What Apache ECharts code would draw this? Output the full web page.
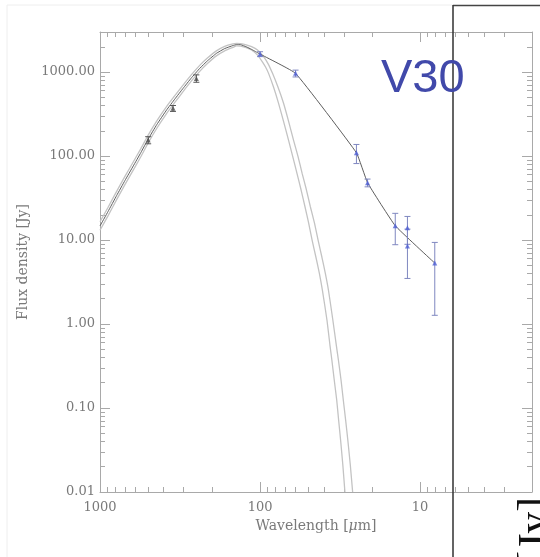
<!DOCTYPE html>
<html>
<head>
<meta charset="utf-8">
<script src="https://cdn.jsdelivr.net/npm/echarts@6/dist/echarts.min.js"></script>
<style>
  html, body { margin: 0; padding: 0; background: #fff; }
  #chart { width: 540px; height: 557px; }
</style>
</head>
<body>
<div id="chart"></div>
<script>
// Sub-millimetre photometry (black)
const submmWavelength = [500, 350, 250];
const submmFlux = [155, 370, 841];
const submmError = [15, 30, 85];

// Far/mid-infrared photometry (blue)
const irWavelength = [100, 60, 25, 21.3, 14.3, 12, 12, 8.1];
const irFlux = [1637, 965, 109.4, 48.1, 14.8, 14.0, 8.49, 5.32];
const irError = [110, 90, 28, 5.1, 6.0, 5.1, 5.0, 4.05];

// Best-fit cold dust model (dark line, long-wavelength part)
const modelWavelength = [1000, 891.5, 787, 698.6, 620, 555.3, 500, 441.6, 384, 340.9, 302.7, 269.1,
  238.2, 212.4, 187.5, 166.4, 147.8, 140.1, 132.3, 122.0, 113.0, 106.7, 100];
const modelFlux = [14.7, 21.8, 33.9, 51.1, 76.0, 110.1, 159.4, 237.1, 352.9, 477.0, 639.7, 848.5,
  1106.6, 1370.4, 1670, 1905, 2068, 2125, 2119, 2001, 1863, 1754, 1638];

// SED line through the infrared points
const sedLineWavelength = [60, 25, 21.3, 14.3, 8.1];
const sedLineFlux = [965, 109.4, 48.1, 14.8, 5.32];

// Upper greybody envelope
const upperWavelength = [1000, 891.5, 787, 698.6, 620, 555.3, 500, 441.6, 384, 340.9, 302.7, 269.1,
  238.2, 212.4, 187.5, 166.4, 147.8, 140.1, 132.3, 122.0, 113.0, 103.7, 95.1, 89.2,
  83.6, 77.3, 71.4, 66.4, 61.8, 58.0, 54.6, 51.3, 48.5, 45.7, 43.4, 41.1, 39.1, 37.4, 35.1, 33.4,
  32.4, 31.2, 30.2, 29.2, 28.3, 27.3, 26.4];
const upperFlux = [16.5, 24.4, 38.0, 57.2, 84.9, 122.8, 177.4, 262.5, 388.2, 523.3, 699.2, 924.9,
  1201.8, 1477.3, 1788.6, 2026.9, 2171.4, 2199, 2184, 2113, 2012, 1828, 1529, 1262,
  965, 662.9, 427.6, 261.0, 155.0, 100, 62.2, 39.4, 24.9, 15.9, 10, 6.28, 4.01, 2.54, 1.116, 0.562,
  0.3727, 0.2154, 0.1245, 0.0720, 0.0416, 0.02097, 0.01];

// Lower greybody envelope
const lowerWavelength = [1000, 891.5, 787, 698.6, 620, 555.3, 500, 441.6, 384, 340.9, 302.7, 269.1,
  238.2, 212.4, 187.5, 166.4, 147.8, 140.1, 132.3, 122.0, 113.0, 103.7, 96.5, 92.4,
  88.5, 82.4, 76.7, 71.4, 66.4, 62.6, 58.8, 55.4, 52.4, 49.7, 47.3, 44.8, 42.6, 40.8, 38.2, 36.6,
  35.6, 34.4, 33.2, 32.3, 31.4, 30.4, 29.5];
const lowerFlux = [13.1, 19.4, 30.3, 45.7, 68.0, 98.7, 143.2, 214.2, 320.8, 434.8, 585.3, 778.4,
  1019.0, 1271.2, 1559.3, 1790.4, 1969.5, 2053, 2039, 1957, 1828, 1594, 1315, 1147,
  965, 662.9, 427.6, 261.0, 155.0, 100, 62.2, 39.4, 24.9, 15.9, 10, 6.28, 4.01, 2.54, 1.116, 0.562,
  0.3727, 0.2154, 0.1245, 0.0720, 0.0416, 0.02097, 0.01];

// Axis ticks
const xMajorTicks = [1000, 100, 10];
const xMinorTicks = [900, 800, 700, 600, 500, 400, 300, 200, 90, 80, 70, 60, 50, 40, 30, 20, 9, 8, 7, 6, 5, 4, 3, 2];
const yMajorTicks = [1000, 100, 10, 1, 0.1, 0.01];
const yMinorTicks = [3000, 2000,
  900, 800, 700, 600, 500, 400, 300, 200,
  90, 80, 70, 60, 50, 40, 30, 20,
  9, 8, 7, 6, 5, 4, 3, 2,
  0.9, 0.8, 0.7, 0.6, 0.5, 0.4, 0.3, 0.2,
  0.09, 0.08, 0.07, 0.06, 0.05, 0.04, 0.03, 0.02];

const zip = (a, b, c) => a.map((v, i) => c ? [v, b[i], c[i]] : [v, b[i]]);

const AXIS = '#a9a9a9';
const TEXT = '#7a7a7a';
const SERIF = '"DejaVu Serif", "Liberation Serif", serif';

function xAxisDef(position, ticks, len, extra) {
  return Object.assign({
    type: 'log', logBase: 10, min: 2, max: 1000, inverse: true, gridIndex: 0,
    position: position, offset: 0,
    splitLine: { show: false },
    axisLine: { show: false },
    axisLabel: { show: false },
    axisTick: { show: true, inside: true, length: len, customValues: ticks, lineStyle: { color: AXIS, width: 1 } }
  }, extra || {});
}
function yAxisDef(position, ticks, len, extra) {
  return Object.assign({
    type: 'log', logBase: 10, min: 0.01, max: 3000, gridIndex: 0,
    position: position, offset: 0,
    splitLine: { show: false },
    axisLine: { show: false },
    axisLabel: { show: false },
    axisTick: { show: true, inside: true, length: len, customValues: ticks, lineStyle: { color: AXIS, width: 1 } }
  }, extra || {});
}

function errorBars(color) {
  return function (params, api) {
    const x = api.value(0), y = api.value(1), e = api.value(2);
    const top = api.coord([x, y + e]);
    const bot = api.coord([x, Math.max(y - e, 1e-4)]);
    const w = 3;
    const style = { stroke: color, lineWidth: 1 };
    return {
      type: 'group',
      children: [
        { type: 'line', shape: { x1: top[0], y1: top[1], x2: bot[0], y2: bot[1] }, style: style },
        { type: 'line', shape: { x1: top[0] - w, y1: top[1], x2: top[0] + w, y2: top[1] }, style: style },
        { type: 'line', shape: { x1: bot[0] - w, y1: bot[1], x2: bot[0] + w, y2: bot[1] }, style: style }
      ]
    };
  };
}

const chart = echarts.init(document.getElementById('chart'), null, { renderer: 'canvas' });

chart.setOption({
  animation: false,
  backgroundColor: '#fff',
  grid: { left: 100, right: 8, top: 32, bottom: 65 },
  xAxis: [
    xAxisDef('bottom', xMajorTicks, 10, {
      axisLine: { show: true, lineStyle: { color: AXIS, width: 1 } },
      axisLabel: {
        show: true, customValues: xMajorTicks, margin: 9,
        formatter: v => String(Math.round(v)),
        color: TEXT, fontFamily: SERIF, fontSize: 13
      },
      name: 'Wavelength [{i|μ}m]',
      nameLocation: 'middle', nameGap: 25,
      nameTextStyle: {
        color: TEXT, fontFamily: SERIF, fontSize: 14,
        rich: { i: { fontStyle: 'italic', fontFamily: SERIF, fontSize: 14, color: TEXT } }
      }
    }),
    xAxisDef('bottom', xMinorTicks, 5),
    xAxisDef('top', xMajorTicks, 10, { axisLine: { show: true, lineStyle: { color: AXIS, width: 1 } } }),
    xAxisDef('top', xMinorTicks, 5)
  ],
  yAxis: [
    yAxisDef('left', yMajorTicks, 10, {
      axisLine: { show: true, lineStyle: { color: AXIS, width: 1 } },
      axisLabel: {
        show: true, customValues: yMajorTicks, margin: 5,
        formatter: v => Number(v).toFixed(2),
        color: TEXT, fontFamily: SERIF, fontSize: 13
      },
      name: 'Flux density [Jy]',
      nameLocation: 'middle', nameGap: 68, nameRotate: 90,
      nameTextStyle: { color: TEXT, fontFamily: SERIF, fontSize: 14 }
    }),
    yAxisDef('left', yMinorTicks, 5),
    yAxisDef('right', yMajorTicks, 10, { axisLine: { show: true, lineStyle: { color: AXIS, width: 1 } } }),
    yAxisDef('right', yMinorTicks, 5)
  ],
  series: [
    {
      name: 'upper envelope', type: 'line', xAxisIndex: 0, yAxisIndex: 0,
      data: zip(upperWavelength, upperFlux), showSymbol: false, smooth: 0.15,
      lineStyle: { color: '#c3c3c3', width: 1.3 }, z: 1, silent: true
    },
    {
      name: 'lower envelope', type: 'line', xAxisIndex: 0, yAxisIndex: 0,
      data: zip(lowerWavelength, lowerFlux), showSymbol: false, smooth: 0.15,
      lineStyle: { color: '#c3c3c3', width: 1.3 }, z: 1, silent: true
    },
    {
      name: 'model', type: 'line', xAxisIndex: 0, yAxisIndex: 0,
      data: zip(modelWavelength, modelFlux).concat(zip(sedLineWavelength, sedLineFlux)),
      showSymbol: false, smooth: 0.1,
      lineStyle: { color: '#5e5e5e', width: 1 }, z: 2, silent: true
    },
    {
      name: 'submm errors', type: 'custom', xAxisIndex: 0, yAxisIndex: 0,
      data: zip(submmWavelength, submmFlux, submmError),
      encode: { x: 0, y: 1 }, renderItem: errorBars('#555555'), z: 3, silent: true
    },
    {
      name: 'ir errors', type: 'custom', xAxisIndex: 0, yAxisIndex: 0,
      data: zip(irWavelength, irFlux, irError),
      encode: { x: 0, y: 1 }, renderItem: errorBars('#7f87c0'), z: 3, silent: true
    },
    {
      name: 'submm', type: 'scatter', xAxisIndex: 0, yAxisIndex: 0,
      data: zip(submmWavelength, submmFlux), symbol: 'triangle', symbolSize: 5,
      itemStyle: { color: '#505050' }, z: 4
    },
    {
      name: 'ir', type: 'scatter', xAxisIndex: 0, yAxisIndex: 0,
      data: zip(irWavelength, irFlux), symbol: 'triangle', symbolSize: 5,
      itemStyle: { color: '#4f5fd4' }, z: 4
    }
  ],
  graphic: [
    { type: 'rect', shape: { x: 7, y: 5, width: 446, height: 600 }, style: { fill: 'none', stroke: '#eeeeee', lineWidth: 1 }, z: -1 },
    { type: 'line', shape: { x1: 453, y1: 5.5, x2: 540, y2: 5.5 }, style: { stroke: '#444', lineWidth: 1.5 }, z: 10 },
    { type: 'line', shape: { x1: 453, y1: 5, x2: 453, y2: 557 }, style: { stroke: '#333', lineWidth: 1.5 }, z: 10 },
    {
      type: 'text', x: 381, y: 79, z: 11,
      style: { text: 'V30', fill: '#4149aa', font: '47px "Liberation Sans", Arial, sans-serif', verticalAlign: 'middle', align: 'left' }
    },
    {
      type: 'text', x: 514, y: 497, rotation: Math.PI / 2, z: 11,
      style: { text: 'Flux [Jy]', fill: '#111', font: '44px "Liberation Serif", serif', align: 'right', verticalAlign: 'top' }
    }
  ]
});
</script>
</body>
</html>
